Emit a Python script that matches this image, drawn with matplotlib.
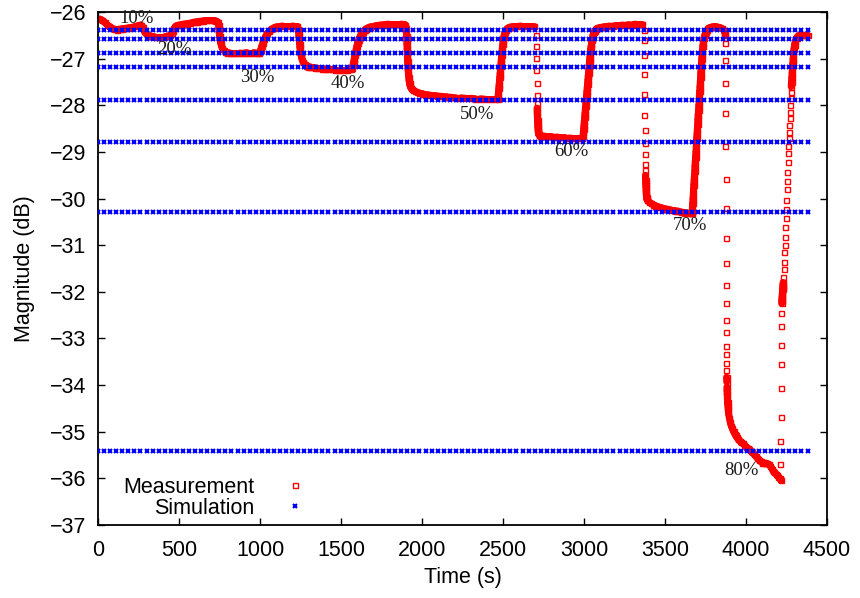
import numpy as np
import matplotlib
matplotlib.use("Agg")
import matplotlib.pyplot as plt
from matplotlib.collections import LineCollection
from matplotlib.lines import Line2D

# ---------------- data ----------------
# Measurement: time (s) and magnitude (dB), segment by segment
t_10 = [0, 12, 25, 40, 55, 70, 85, 100, 115, 130, 150, 170, 190, 210, 230, 250, 265]
v_10 = [-26.15, -26.15, -26.18, -26.22, -26.27, -26.31, -26.35, -26.37, -26.38, -26.37,
        -26.36, -26.35, -26.34, -26.33, -26.31, -26.29, -26.28]

t_20 = [275, 282, 290, 300, 315, 330, 350, 370, 390, 410, 430, 445, 455, 462, 470, 478,
        488, 500, 515, 530, 550, 570, 590, 610, 630, 650, 670, 690, 710, 725, 738]
v_20 = [-26.32, -26.38, -26.44, -26.48, -26.51, -26.52, -26.53, -26.53, -26.53, -26.53,
        -26.52, -26.50, -26.46, -26.40, -26.35, -26.31, -26.29, -26.28, -26.27, -26.26,
        -26.25, -26.24, -26.22, -26.21, -26.20, -26.19, -26.18, -26.18, -26.18, -26.19, -26.21]

t_30 = [744, 746, 748, 750, 753, 757, 762, 768, 776, 786, 798, 812, 828, 845, 862, 880,
        900, 920, 940, 960, 980, 995, 1003, 1010, 1018, 1026, 1035, 1045, 1057, 1070, 1085,
        1100, 1120, 1140, 1160, 1180, 1200, 1215, 1230]
v_30 = [-26.28, -26.36, -26.44, -26.52, -26.60, -26.67, -26.73, -26.78, -26.82, -26.85,
        -26.87, -26.88, -26.89, -26.89, -26.89, -26.88, -26.88, -26.87, -26.87, -26.87,
        -26.88, -26.88, -26.82, -26.74, -26.66, -26.59, -26.52, -26.46, -26.41, -26.37,
        -26.34, -26.32, -26.31, -26.30, -26.30, -26.30, -26.30, -26.31, -26.31]

t_40 = [1236, 1238, 1240, 1242, 1244, 1246, 1249, 1252, 1256, 1261, 1267, 1275, 1285, 1297,
        1310, 1325, 1340, 1360, 1380, 1400, 1420, 1440, 1460, 1480, 1500, 1520, 1540, 1560,
        1570, 1574, 1578, 1582, 1586, 1590, 1594, 1598, 1603, 1608, 1614, 1621, 1628, 1636,
        1645, 1655, 1667, 1680, 1700, 1720, 1745, 1770, 1795, 1820, 1845, 1870, 1895]
v_40 = [-26.36, -26.44, -26.52, -26.60, -26.68, -26.76, -26.84, -26.91, -26.97, -27.03,
        -27.08, -27.12, -27.15, -27.17, -27.18, -27.19, -27.20, -27.21, -27.22, -27.22,
        -27.23, -27.23, -27.24, -27.24, -27.24, -27.24, -27.24, -27.23, -27.20, -27.14,
        -27.07, -27.00, -26.93, -26.86, -26.79, -26.73, -26.67, -26.61, -26.55, -26.50,
        -26.46, -26.42, -26.39, -26.36, -26.34, -26.32, -26.31, -26.29, -26.28, -26.27,
        -26.26, -26.26, -26.26, -26.26, -26.27]

t_50 = [1903, 1904, 1905, 1906, 1907, 1908, 1909, 1910, 1911, 1912, 1914, 1916, 1918, 1920,
        1923, 1926, 1930, 1937, 1945, 1955, 1968, 1983, 2000, 2020, 2040, 2065, 2090, 2120,
        2150, 2180, 2210, 2240, 2270, 2300, 2330, 2360, 2390, 2420, 2450, 2468, 2470, 2472,
        2474, 2476, 2478, 2480, 2482, 2484, 2486, 2488, 2490, 2492, 2494, 2496, 2499, 2502,
        2505, 2509, 2514, 2520, 2528, 2538, 2550, 2570, 2590, 2610, 2630, 2650, 2670, 2690]
v_50 = [-26.34, -26.43, -26.52, -26.61, -26.70, -26.79, -26.88, -26.97, -27.06, -27.15,
        -27.24, -27.32, -27.40, -27.47, -27.53, -27.58, -27.62, -27.65, -27.68, -27.70,
        -27.72, -27.74, -27.75, -27.77, -27.78, -27.79, -27.80, -27.81, -27.82, -27.83,
        -27.84, -27.84, -27.85, -27.85, -27.86, -27.86, -27.87, -27.87, -27.87, -27.87,
        -27.80, -27.72, -27.64, -27.56, -27.48, -27.40, -27.32, -27.24, -27.16, -27.08,
        -27.00, -26.92, -26.84, -26.76, -26.68, -26.60, -26.53, -26.47, -26.42, -26.38,
        -26.35, -26.33, -26.32, -26.31, -26.31, -26.30, -26.30, -26.30, -26.30, -26.30]

t_60 = [2703, 2704, 2705, 2706, 2707, 2708, 2709, 2710, 2711, 2712, 2713, 2714, 2715, 2716,
        2717, 2718, 2719, 2720, 2722, 2725, 2730, 2736, 2745, 2755, 2770, 2790, 2810, 2830,
        2850, 2870, 2890, 2910, 2930, 2950, 2970, 2985, 2994, 2996, 2998, 3000, 3002, 3004,
        3006, 3008, 3010, 3012, 3014, 3016, 3018, 3020, 3022, 3024, 3026, 3028, 3030, 3032,
        3034, 3036, 3038, 3040, 3043, 3046, 3049, 3052, 3056, 3061, 3067, 3074, 3082, 3092,
        3105, 3120, 3140, 3160, 3180, 3200, 3220, 3240, 3260, 3280, 3300, 3320, 3340, 3355]
v_60 = [-26.49, -26.74, -26.99, -27.24, -27.53, -27.78, -27.95, -28.06, -28.15, -28.24,
        -28.32, -28.40, -28.46, -28.51, -28.55, -28.58, -28.60, -28.62, -28.63, -28.64,
        -28.65, -28.65, -28.66, -28.66, -28.67, -28.67, -28.68, -28.68, -28.69, -28.69,
        -28.70, -28.70, -28.71, -28.71, -28.71, -28.71, -28.66, -28.58, -28.50, -28.42,
        -28.34, -28.26, -28.18, -28.10, -28.02, -27.94, -27.86, -27.78, -27.70, -27.62,
        -27.54, -27.46, -27.38, -27.30, -27.22, -27.14, -27.06, -26.98, -26.90, -26.82,
        -26.75, -26.68, -26.61, -26.55, -26.49, -26.44, -26.40, -26.37, -26.35, -26.34,
        -26.33, -26.32, -26.31, -26.30, -26.30, -26.29, -26.29, -26.28, -26.28, -26.27,
        -26.27, -26.26, -26.26, -26.26]

t_70 = [3368, 3369, 3370, 3371, 3372, 3373, 3374, 3375, 3376, 3377, 3378, 3379, 3380, 3381,
        3382, 3383, 3384, 3385, 3386, 3387, 3390, 3400, 3412, 3425, 3440, 3460, 3480, 3500,
        3520, 3540, 3560, 3580, 3600, 3620, 3640, 3655, 3664,
        3667, 3669, 3671, 3673, 3675, 3676, 3678, 3680, 3682, 3684, 3685, 3687, 3689, 3691,
        3693, 3694, 3696, 3698, 3700, 3702, 3703, 3705, 3707, 3709, 3711, 3712, 3714, 3716,
        3718, 3720, 3721, 3723, 3725, 3727, 3729, 3731, 3734, 3737, 3741, 3746, 3752, 3759,
        3768, 3780, 3792, 3806, 3820, 3835, 3850, 3862, 3868]
v_70 = [-26.39, -26.60, -26.92, -27.32, -27.76, -28.21, -28.52, -28.82, -29.05, -29.25,
        -29.39, -29.50, -29.60, -29.68, -29.75, -29.82, -29.88, -29.93, -29.97, -30.00,
        -30.03, -30.07, -30.10, -30.13, -30.15, -30.18, -30.20, -30.22, -30.23, -30.25,
        -30.26, -30.27, -30.29, -30.30, -30.31, -30.31, -30.31,
        -30.30, -30.20, -30.10, -30.00, -29.90, -29.80, -29.70, -29.60, -29.50, -29.40,
        -29.30, -29.20, -29.10, -29.00, -28.90, -28.80, -28.70, -28.60, -28.50, -28.40,
        -28.30, -28.20, -28.10, -28.00, -27.90, -27.80, -27.70, -27.60, -27.50, -27.40,
        -27.30, -27.20, -27.10, -27.00, -26.90, -26.81, -26.72, -26.64, -26.56, -26.49,
        -26.43, -26.39, -26.35, -26.33, -26.32, -26.31, -26.32, -26.33, -26.35,
        -26.38, -26.42]

t_80 = [3871, 3871.5, 3872, 3872.5, 3873, 3873.5, 3874, 3874.5, 3875, 3875.5, 3876, 3876.5,
        3877, 3877.5, 3878, 3878.5, 3879, 3879.5, 3880, 3881, 3882, 3883, 3884, 3885, 3886,
        3888, 3890, 3892, 3897, 3903, 3909, 3916, 3923, 3930, 3937, 3944, 3952, 3960, 3970,
        3980, 3990, 4000, 4010, 4020, 4030, 4040, 4050, 4060, 4070, 4080, 4090, 4100, 4110,
        4120, 4130, 4140, 4150, 4160, 4168, 4176, 4184, 4192, 4200, 4207, 4213, 4218]
v_80 = [-26.49, -26.67, -27.02, -27.53, -28.17, -28.88, -29.58, -30.20, -30.84, -31.39,
        -31.86, -32.25, -32.60, -32.86, -33.16, -33.34, -33.53, -33.68, -33.83, -33.93,
        -34.04, -34.12, -34.20, -34.28, -34.36, -34.44, -34.52, -34.60, -34.70, -34.80,
        -34.87, -34.93, -34.99, -35.04, -35.08, -35.12, -35.16, -35.19, -35.22, -35.25,
        -35.28, -35.32, -35.35, -35.38, -35.41, -35.44, -35.48, -35.52, -35.56, -35.60,
        -35.63, -35.66, -35.67, -35.67, -35.68, -35.70, -35.73, -35.79, -35.84, -35.87,
        -35.90, -35.93, -35.96, -35.99, -36.02, -36.04]

t_end = [4212, 4213, 4214, 4215, 4216, 4217, 4218, 4219, 4220, 4221, 4222, 4223, 4224, 4225,
         4226, 4227, 4228, 4229, 4231, 4233, 4235, 4237, 4239, 4241, 4243, 4245, 4247, 4249,
         4251, 4253, 4255, 4257, 4259, 4261, 4263, 4265, 4267, 4269, 4271, 4273, 4275, 4277,
         4279, 4281, 4283, 4285, 4287, 4289, 4291, 4293, 4296, 4300, 4305, 4312, 4320, 4330,
         4340, 4350, 4360, 4370, 4380]
v_end = [-35.69, -35.20, -34.69, -34.07, -33.55, -33.13, -32.74, -32.45, -32.25, -32.20,
         -32.15, -32.10, -32.05, -32.00, -31.95, -31.90, -31.85, -31.80, -31.68, -31.50,
         -31.35, -31.14, -31.00, -30.82, -30.61, -30.42, -30.23, -30.03, -29.80, -29.62,
         -29.43, -29.21, -29.03, -28.88, -28.70, -28.57, -28.43, -28.28, -28.14, -28.00,
         -27.85, -27.71, -27.60, -27.50, -27.40, -27.30, -27.20, -27.10, -27.00, -26.90,
         -26.80, -26.70, -26.62, -26.56, -26.52, -26.50, -26.49, -26.49, -26.49, -26.49, -26.50]

meas_t = t_10 + t_20 + t_30 + t_40 + t_50 + t_60 + t_70 + t_80 + t_end
meas_v = v_10 + v_20 + v_30 + v_40 + v_50 + v_60 + v_70 + v_80 + v_end

# Simulation: constant levels for each concentration
sim_levels = [-26.39, -26.59, -26.88, -27.18, -27.89, -28.79, -30.29, -35.42]
sim_t = np.linspace(0, 4380, 118)

# Percentage annotations (label, time, magnitude)
pct_labels = ["10%", "20%", "30%", "40%", "50%", "60%", "70%", "80%"]
pct_t = [235, 469, 981, 1543, 2339, 2923, 3654, 3972]
pct_v = [-26.13, -26.80, -27.41, -27.53, -28.19, -28.99, -30.58, -35.82]

x_ticks = [0, 500, 1000, 1500, 2000, 2500, 3000, 3500, 4000, 4500]
y_ticks = [-37, -36, -35, -34, -33, -32, -31, -30, -29, -28, -27, -26]

RED = '#ff0000'
BLUE = '#0000ff'
FS = 15.5

# ---------------- figure ----------------
plt.rcParams['font.family'] = ['Liberation Sans', 'DejaVu Sans']
fig = plt.figure(figsize=(8.6, 5.98), dpi=100)
ax = fig.add_axes([0.114, 0.122, 0.8476, 0.858])
ax.set_xlim(0, 4500)
ax.set_ylim(-37, -26)

# where consecutive samples overlap on screen, the markers merge into a band
mt = np.asarray(meas_t, float)
mv = np.asarray(meas_v, float)
pix = ax.transData.transform(np.column_stack([mt, mv]))
gap = np.hypot(np.diff(pix[:, 0]), np.diff(pix[:, 1]))
segs = [[(mt[i], mv[i]), (mt[i + 1], mv[i + 1])] for i in range(len(mt) - 1) if gap[i] < 5.0]
ax.add_collection(LineCollection(segs, colors=RED, linewidths=5.0, capstyle='round', zorder=2))

ax.plot(mt, mv, linestyle='none', marker='s', markersize=3.6,
        markerfacecolor='none', markeredgecolor=RED, markeredgewidth=1.0, zorder=2.1)

for lvl in sim_levels:
    ax.plot(sim_t, np.full(len(sim_t), lvl), linestyle='none', marker='x',
            markersize=3.4, markeredgewidth=1.5, color=BLUE, zorder=3)

for lab, tx, vy in zip(pct_labels, pct_t, pct_v):
    ax.text(tx, vy, lab, ha='center', va='center', fontsize=13.5,
            family=['Liberation Serif', 'DejaVu Serif'], color='#1a1a1a', zorder=4)

ax.set_xticks(x_ticks)
ax.set_yticks(y_ticks)
ax.tick_params(direction='in', top=True, right=True, length=5, width=1,
               labelsize=FS, colors='black')
ax.tick_params(axis='x', pad=11)
ax.tick_params(axis='y', pad=8.7)
for s in ax.spines.values():
    s.set_linewidth(1.3)

ax.set_xlabel('Time (s)', fontsize=FS, labelpad=4.0)
ax.set_ylabel('Magnitude (dB)', fontsize=FS, labelpad=10.5)

handles = [Line2D([], [], linestyle='none', marker='s', markersize=3.6, markerfacecolor='none',
                  markeredgecolor=RED, markeredgewidth=1.0),
           Line2D([], [], linestyle='none', marker='x', markersize=3.4, markeredgewidth=1.5,
                  color=BLUE)]
ax.legend(handles, ['Measurement', 'Simulation'], loc='lower left',
          bbox_to_anchor=(0.0343, 0.0125), frameon=False, markerfirst=False, fontsize=FS,
          borderpad=0, labelspacing=0.0, handlelength=1.5, handletextpad=1.15,
          borderaxespad=0)

fig.savefig('out.png', dpi=100)
